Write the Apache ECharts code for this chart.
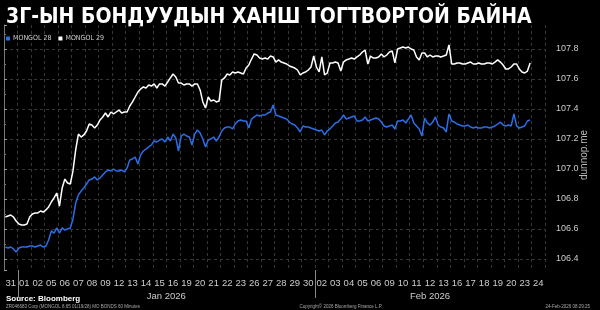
<!DOCTYPE html>
<html><head><meta charset="utf-8">
<script src="https://cdn.jsdelivr.net/npm/echarts@6/dist/echarts.min.js"></script>
<style>html,body{margin:0;background:#000}#c{width:600px;height:310px}</style></head>
<body><div id="c"></div>
<script>
// ---- data ----
const titleText = '3Г-ЫН БОНДУУДЫН ХАНШ ТОГТВОРТОЙ БАЙНА';
const seriesNames = ['MONGOL 28', 'MONGOL 29'];
const dayLabels = ['31','01','02','05','06','07','08','09','12','13','14','15','16','19','20','21','22','23','26','27','28','29','30',
                   '02','03','04','05','06','09','10','11','12','13','16','17','18','19','20','23','24'];
const monthLabels = ['Jan 2026', 'Feb 2026'];
const monthFirstDay = [1, 23];
const monthLastDay = [22, 39];
const samplesPerDay = 5;   // intraday samples per trading day

const mongol28 = [
106.480,106.473,106.480,106.467,106.447,106.473,106.480,106.480,106.480,106.487,
106.487,106.480,106.487,106.493,106.480,106.487,106.527,106.587,106.573,106.607,
106.573,106.607,106.593,106.600,106.607,106.667,106.773,106.827,106.853,106.873,
106.900,106.927,106.933,106.947,106.927,106.940,106.960,106.980,106.993,106.987,
107.000,106.987,106.987,106.993,106.980,107.007,107.060,107.067,107.080,107.033,
107.093,107.120,107.133,107.147,107.160,107.187,107.180,107.193,107.200,107.180,
107.213,107.187,107.233,107.207,107.120,107.220,107.233,107.220,107.213,107.160,
107.233,107.260,107.240,107.200,107.147,107.193,107.200,107.213,107.187,107.213,
107.253,107.273,107.280,107.280,107.267,107.300,107.320,107.327,107.320,107.320,
107.273,107.333,107.347,107.360,107.353,107.360,107.360,107.373,107.380,107.427,
107.360,107.353,107.347,107.340,107.333,107.313,107.300,107.293,107.273,107.247,
107.287,107.280,107.280,107.273,107.267,107.260,107.253,107.260,107.227,107.253,
107.267,107.287,107.307,107.313,107.333,107.360,107.333,107.340,107.347,107.353,
107.320,107.320,107.327,107.347,107.320,107.327,107.333,107.340,107.333,107.313,
107.287,107.280,107.287,107.293,107.267,107.320,107.320,107.327,107.307,107.333,
107.360,107.307,107.287,107.267,107.220,107.340,107.307,107.293,107.313,107.347,
107.293,107.280,107.273,107.247,107.367,107.320,107.313,107.300,107.293,107.287,
107.287,107.293,107.280,107.273,107.280,107.273,107.273,107.280,107.280,107.273,
107.280,107.287,107.300,107.313,107.293,107.287,107.293,107.287,107.367,107.287,
107.273,107.280,107.287,107.320,107.327
];
const mongol29 = [
106.680,106.687,106.693,106.680,106.653,106.633,106.627,106.627,106.633,106.680,
106.700,106.707,106.707,106.720,106.713,106.727,106.747,106.780,106.807,106.840,
106.753,106.873,106.933,106.907,106.900,106.987,107.127,107.233,107.213,107.227,
107.253,107.300,107.293,107.273,107.293,107.327,107.347,107.373,107.347,107.380,
107.367,107.380,107.393,107.373,107.380,107.380,107.420,107.447,107.480,107.513,
107.533,107.547,107.540,107.560,107.553,107.567,107.540,107.567,107.567,107.553,
107.580,107.607,107.633,107.613,107.573,107.573,107.560,107.567,107.567,107.553,
107.567,107.567,107.527,107.447,107.407,107.480,107.453,107.460,107.447,107.453,
107.593,107.607,107.633,107.627,107.647,107.640,107.647,107.640,107.633,107.673,
107.693,107.733,107.767,107.760,107.740,107.733,107.740,107.733,107.753,107.747,
107.713,107.727,107.713,107.707,107.700,107.687,107.680,107.673,107.660,107.627,
107.640,107.647,107.660,107.680,107.753,107.680,107.647,107.747,107.627,107.640,
107.707,107.707,107.713,107.707,107.653,107.713,107.727,107.733,107.740,107.733,
107.747,107.760,107.780,107.793,107.700,107.753,107.740,107.740,107.747,107.767,
107.747,107.760,107.780,107.787,107.707,107.800,107.807,107.813,107.807,107.813,
107.800,107.793,107.747,107.727,107.773,107.773,107.747,107.760,107.747,107.753,
107.753,107.747,107.753,107.760,107.827,107.700,107.700,107.707,107.707,107.700,
107.700,107.707,107.713,107.700,107.700,107.707,107.700,107.700,107.707,107.707,
107.700,107.713,107.727,107.713,107.693,107.667,107.667,107.680,107.700,107.700,
107.667,107.647,107.640,107.653,107.707
];
const sourceText = 'Source: Bloomberg';
const footLeft = 'ZR046683 Corp (MONGOL 8.65 01/19/28) MO BONDS 60 Minutes';
const footMid = 'Copyright\u00A9 2026 Bloomberg Finance L.P.';
const footRight = '24-Feb-2026 08:29:25';
const watermark = 'dunnop.me';

// ---- chart ----
const toPoints = arr => arr.map((v, i) => [(i + 0.5) / samplesPerDay, v]);
const chart = echarts.init(document.getElementById('c'));
const gridTop = 25, gridBottom = 40;
const lab = '"Liberation Sans", Arial, sans-serif';
chart.setOption({
  backgroundColor: '#000',
  animation: false,
  title: {
    text: titleText, left: 6, top: 7, padding: 0,
    textStyle: { color: '#fff', fontSize: 21, fontWeight: 'bold', fontFamily: '"DejaVu Sans Condensed", "DejaVu Sans", sans-serif' }
  },
  legend: {
    left: 6, top: 35, padding: 0, itemWidth: 4, itemHeight: 4, itemGap: 7, icon: 'rect',
    textStyle: { color: '#ccc', fontSize: 7, fontFamily: '"DejaVu Sans Condensed", sans-serif', padding: [0, 0, 0, -2] },
    data: seriesNames
  },
  grid: { left: 4, right: 55, top: gridTop, bottom: gridBottom, containLabel: false },
  xAxis: [{
    type: 'category', data: dayLabels, boundaryGap: true,
    axisLine: { show: false }, axisTick: { show: false },
    axisLabel: { color: '#ccc', fontSize: 9.5, fontFamily: lab, margin: 8, interval: 0 },
    splitLine: { show: true, interval: 0, lineStyle: { color: '#363636', type: [3, 3], width: 1 } }
  }, {
    type: 'value', min: 0, max: dayLabels.length, show: false
  }],
  yAxis: {
    type: 'value', position: 'right', offset: 7,
    min: 106.3267, max: 107.96, splitNumber: 8, minInterval: 0.2, maxInterval: 0.2, scale: true,
    axisLine: { show: true, lineStyle: { color: '#777' } },
    axisTick: { show: true, length: 3, lineStyle: { color: '#999' } },
    minorTick: { show: true, splitNumber: 2, length: 2, lineStyle: { color: '#777' } },
    axisLabel: { color: '#ccc', fontSize: 9, fontFamily: lab, margin: 4, showMinLabel: false, showMaxLabel: false,
      formatter: v => v.toFixed(1) },
    splitLine: { show: true, showMinLine: false, showMaxLine: false, lineStyle: { color: '#363636', type: [3, 3] } }
  },
  series: [{
    name: seriesNames[0], type: 'line', xAxisIndex: 1, data: toPoints(mongol28),
    showSymbol: false, symbol: 'none', lineStyle: { color: '#2a6ee8', width: 1.5 }, itemStyle: { color: '#2a6ee8' }
  }, {
    name: seriesNames[1], type: 'line', xAxisIndex: 1, data: toPoints(mongol29),
    showSymbol: false, symbol: 'none', lineStyle: { color: '#ffffff', width: 1.5 }, itemStyle: { color: '#ffffff' }
  }]
});

// month labels and separators placed through the axis scale
const H = 310;
const axisY = H - gridBottom;
const g = [];
monthLabels.forEach((m, i) => {
  const xs = chart.convertToPixel({ xAxisIndex: 1 }, monthFirstDay[i]);
  const xc = chart.convertToPixel({ xAxisIndex: 1 }, (monthFirstDay[i] + monthLastDay[i] + 1) / 2);
  g.push({ type: 'line', shape: { x1: Math.round(xs) + 0.5, y1: axisY, x2: Math.round(xs) + 0.5, y2: axisY + 28 }, style: { stroke: '#888', lineWidth: 1 } });
  g.push({ type: 'text', x: xc, y: axisY + 26, style: { text: m, fill: '#ccc', font: '9.5px ' + lab, textAlign: 'center', textVerticalAlign: 'middle' } });
});
g.push({ type: 'text', x: 6, y: 299, style: { text: sourceText, fill: '#fff', font: 'bold 8px ' + lab, textVerticalAlign: 'middle' } });
g.push({ type: 'text', x: 6, y: 307, style: { text: footLeft, fill: '#aaa', font: '4.5px ' + lab, textVerticalAlign: 'middle' } });
g.push({ type: 'text', x: 341, y: 307, style: { text: footMid, fill: '#aaa', font: '4.5px ' + lab, textAlign: 'center', textVerticalAlign: 'middle' } });
g.push({ type: 'text', x: 590, y: 307, style: { text: footRight, fill: '#aaa', font: '4.5px ' + lab, textAlign: 'right', textVerticalAlign: 'middle' } });
g.push({ type: 'text', x: 584, y: 155, rotation: Math.PI / 2, style: { text: watermark, fill: '#bbb', font: '10px ' + lab, textAlign: 'center', textVerticalAlign: 'middle' } });
chart.setOption({ graphic: g });
</script></body></html>
